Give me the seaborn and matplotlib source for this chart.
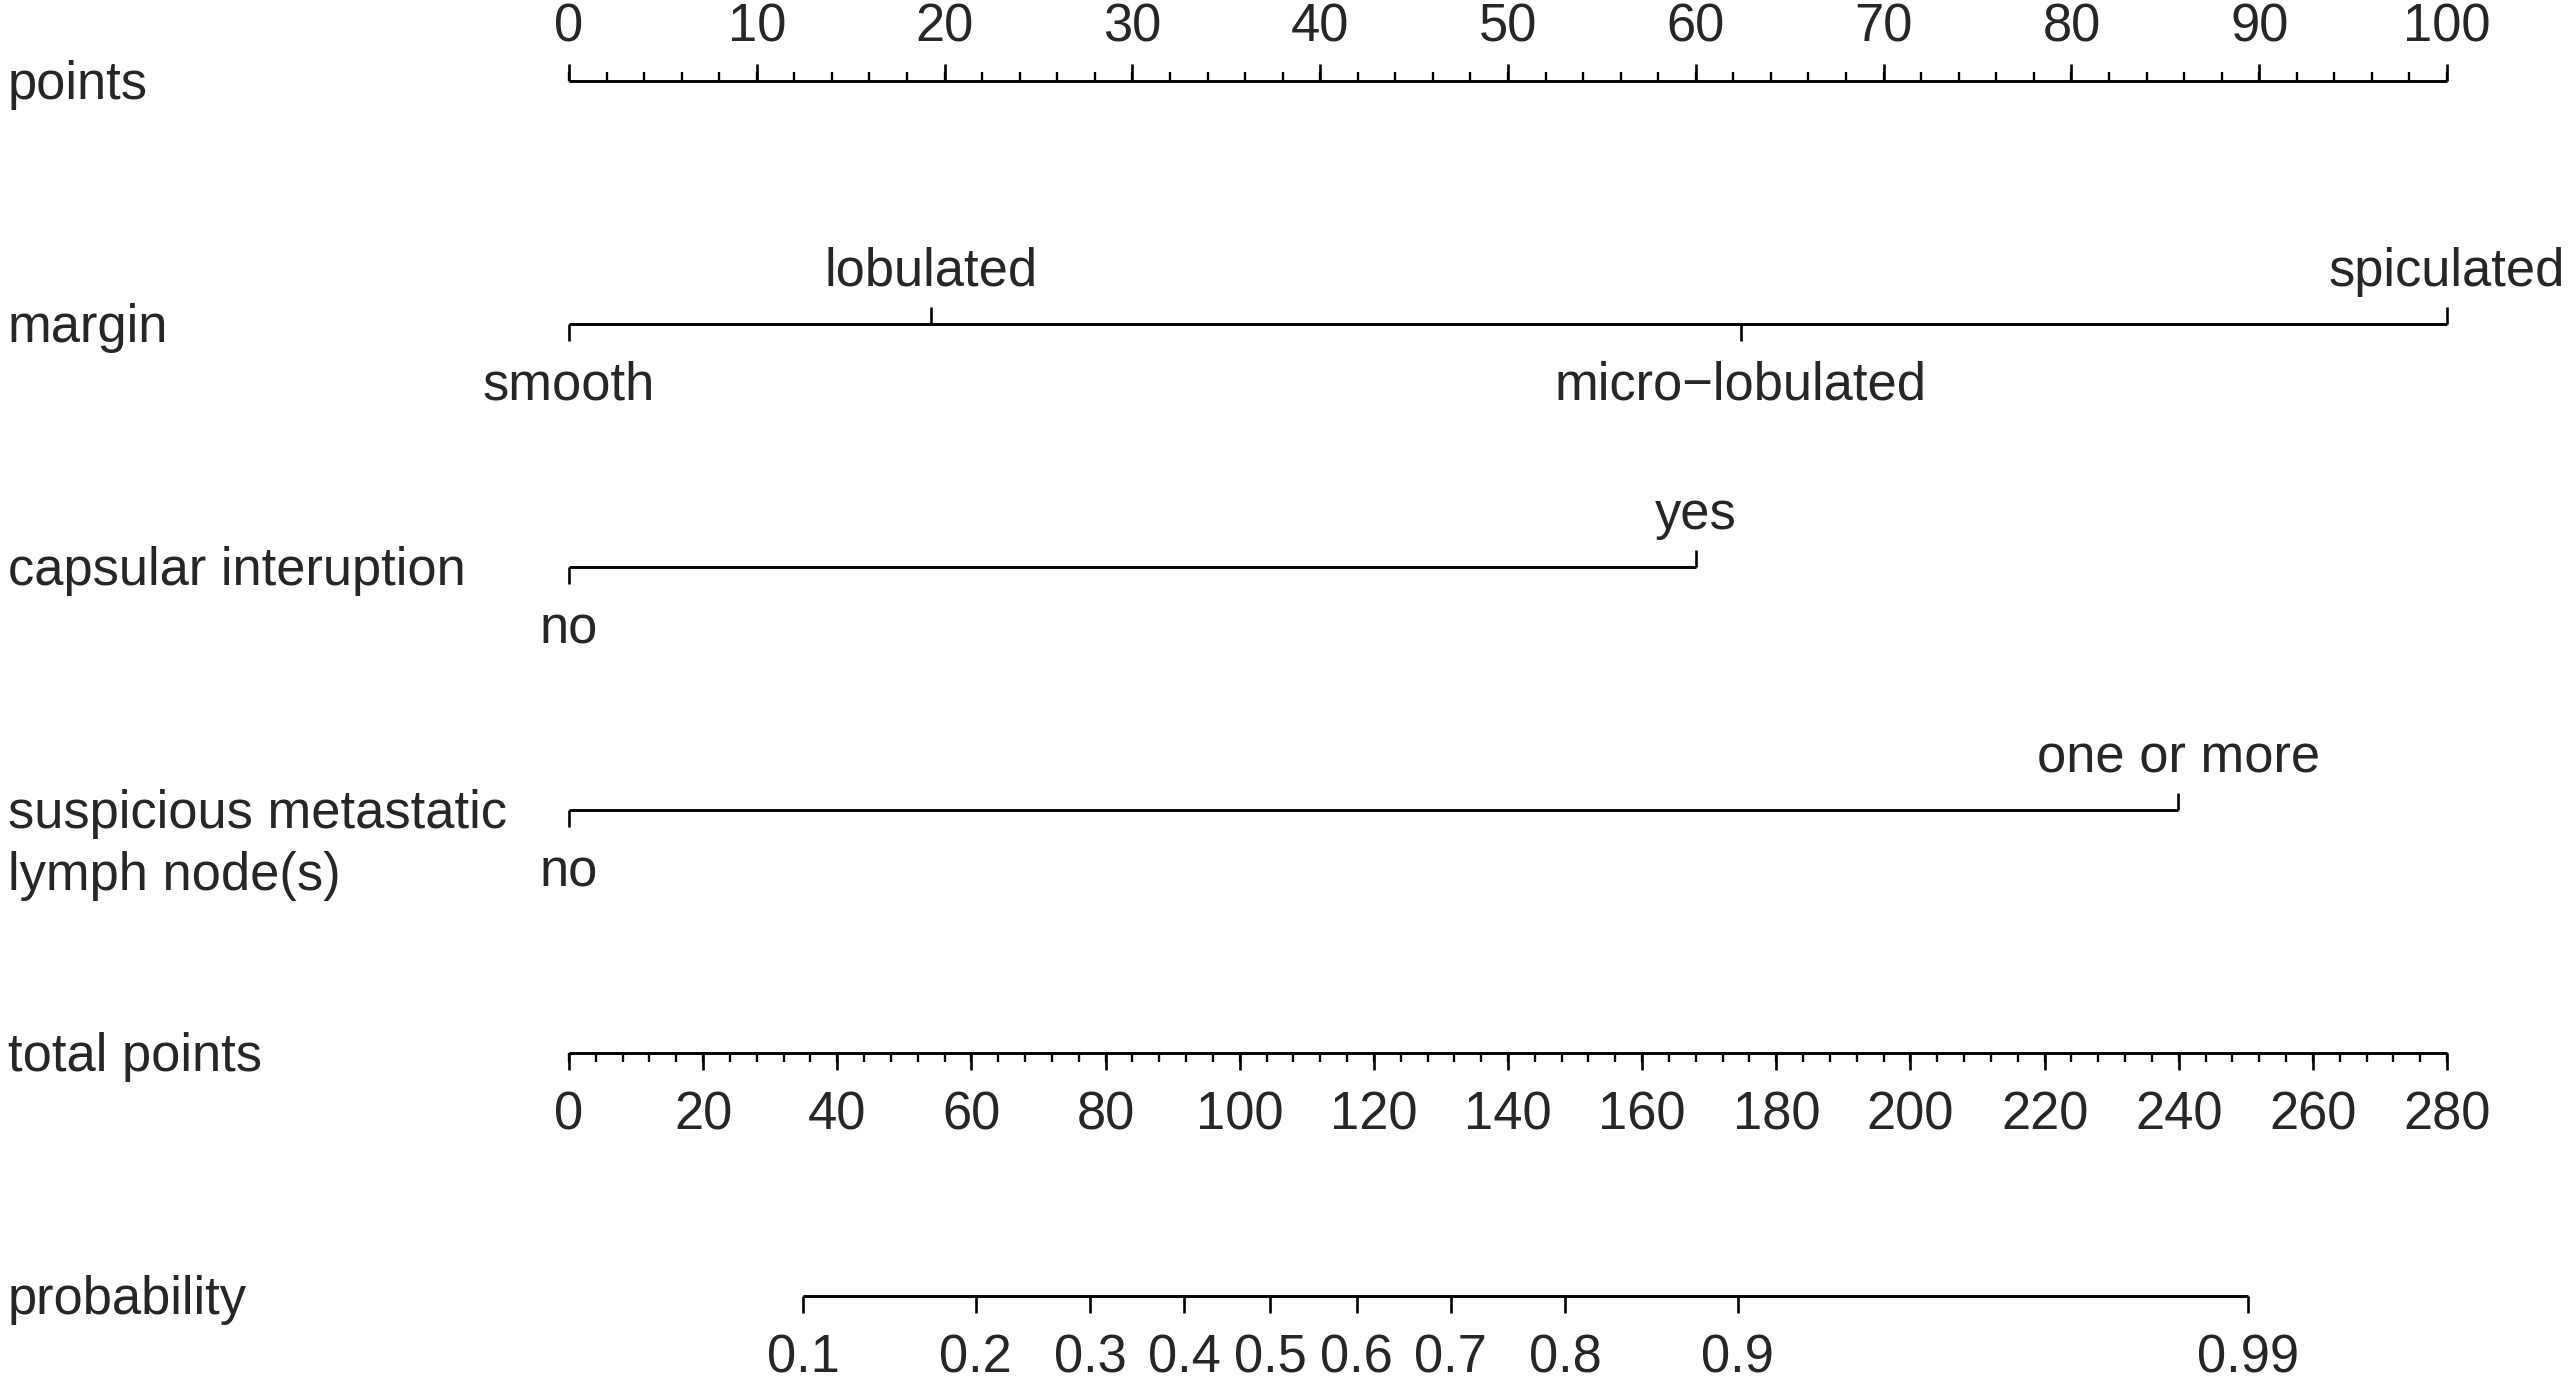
import numpy as np
import matplotlib
matplotlib.use("Agg")
import matplotlib.pyplot as plt
import matplotlib.transforms as mtransforms
import seaborn as sns

# ---- nomogram data ----
row_labels = ["points", "margin", "capsular interuption",
              "suspicious metastatic\nlymph node(s)", "total points", "probability"]

points_major = np.arange(0, 101, 10)
points_minor = np.arange(0, 101, 2)

margin_levels = ["smooth", "lobulated", "micro\u2212lobulated", "spiculated"]
margin_points = [0, 19.3, 62.4, 100]
margin_above = [False, True, False, True]

capsular_levels = ["no", "yes"]
capsular_points = [0, 60]

lymph_levels = ["no", "one or more"]
lymph_points = [0, 85.7]

total_major = np.arange(0, 281, 20)
total_minor = np.arange(0, 281, 4)
total_max = 280

prob_ticks = [0.1, 0.2, 0.3, 0.4, 0.5, 0.6, 0.7, 0.8, 0.9, 0.99]
prob_labels = ["0.1", "0.2", "0.3", "0.4", "0.5", "0.6", "0.7", "0.8", "0.9", "0.99"]
lp_intercept = -3.2977   # linear predictor = intercept + slope * total points
lp_slope = 0.031534

# ---- layout (pixels of the 2572x1380 output) ----
W, H = 2572, 1380
X0, PX_PER_PT = 569, 18.78
ROW0, ROW_STEP = 81, 243
PX = 1.0 / ROW_STEP
FS = 37.8
LW = 2.1
MAJ, MIN = 17 * PX, 9 * PX
LINE_GAP = 62  # px between baselines of a two-line row name


def tp_to_points(tp):
    return np.asarray(tp) * 100.0 / total_max


def prob_to_points(p):
    p = np.asarray(p)
    logit = np.log(p / (1 - p))
    return tp_to_points((logit - lp_intercept) / lp_slope)


def axis_line(ax, row, xs):
    sns.lineplot(x=[min(xs), max(xs)], y=[row, row], color="black",
                 linewidth=LW, ax=ax, solid_capstyle="butt")


def scale_row(ax, row, major, minor, labels, up=True):
    sign = -1 if up else 1
    axis_line(ax, row, major)
    ax.vlines(minor, row, row + sign * MIN, color="black", linewidth=LW * 0.8)
    ax.vlines(major, row, row + sign * MAJ, color="black", linewidth=LW * 0.9)
    ty = row - 39 * PX if up else row + 76 * PX
    for x, lab in zip(major, labels):
        ax.text(x, ty, lab, ha="center", va="baseline", fontsize=FS)


def factor_row(ax, row, xs, levels, above):
    axis_line(ax, row, xs)
    for x, lab, up in zip(xs, levels, above):
        sign = -1 if up else 1
        ax.vlines(x, row, row + sign * MAJ, color="black", linewidth=LW * 0.9)
        ty = row - 38 * PX if up else row + 76 * PX
        ax.text(x, ty, lab, ha="center", va="baseline", fontsize=FS)


def main():
    sns.set_theme(style="white")
    plt.rcParams["font.family"] = ["Liberation Sans", "DejaVu Sans"]

    fig = plt.figure(figsize=(W / 100, H / 100), dpi=100)
    ax = fig.add_axes([0, 0, 1, 1])
    ax.set_xlim(-X0 / PX_PER_PT, (W - X0) / PX_PER_PT)
    ax.set_ylim((H - ROW0) / ROW_STEP, -ROW0 / ROW_STEP)
    ax.axis("off")

    # points scale
    scale_row(ax, 0, points_major, points_minor,
              [str(v) for v in points_major], up=True)

    # predictors
    factor_row(ax, 1, margin_points, margin_levels, margin_above)
    factor_row(ax, 2, capsular_points, capsular_levels, [False, True])
    factor_row(ax, 3, lymph_points, lymph_levels, [False, True])

    # total points
    scale_row(ax, 4, tp_to_points(total_major), tp_to_points(total_minor),
              [str(v) for v in total_major], up=False)

    # probability
    px = prob_to_points(prob_ticks)
    axis_line(ax, 5, px)
    ax.vlines(px, 5, 5 + MAJ, color="black", linewidth=LW * 0.9)
    for x, lab in zip(px, prob_labels):
        ax.text(x, 5 + 76 * PX, lab, ha="center", va="baseline", fontsize=FS)

    # row names on the left (first line sits on the scale line)
    trans = mtransforms.blended_transform_factory(ax.transAxes, ax.transData)
    for i, name in enumerate(row_labels):
        extra = name.count("\n") * LINE_GAP
        ax.text(8 / W, i + (18 + extra) * PX, name, transform=trans, ha="left",
                va="baseline", fontsize=FS, linespacing=1.3)

    fig.savefig("out.png", dpi=100)


if __name__ == '__main__':
    main()
